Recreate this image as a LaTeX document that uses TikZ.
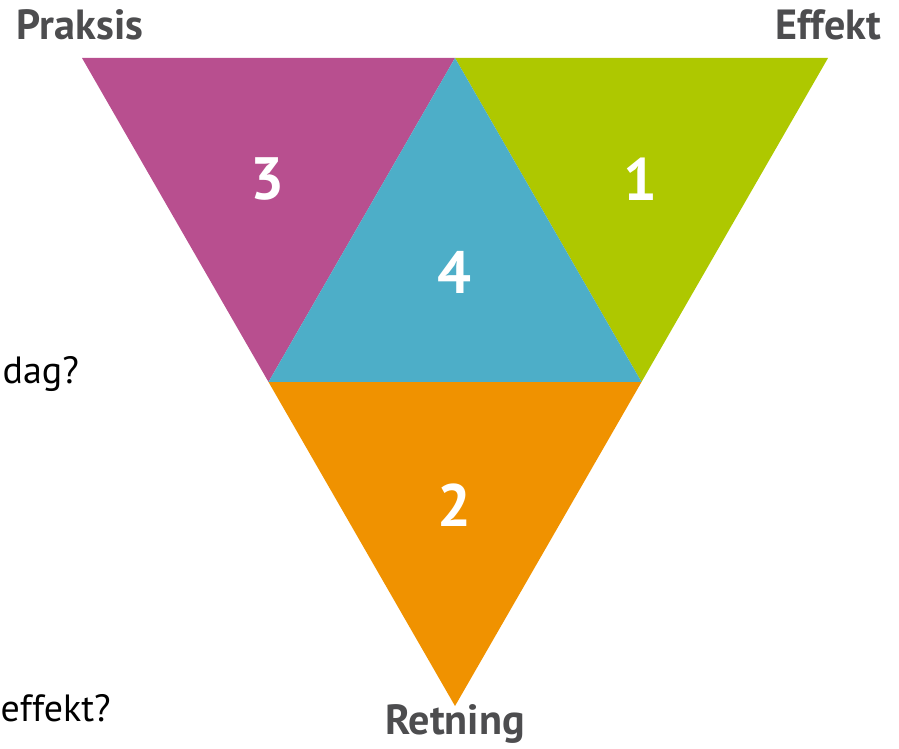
\documentclass[tikz,border=0pt]{standalone}
\usepackage{fontspec}
\setmainfont{PT Sans}
\usetikzlibrary{calc}
\definecolor{lilla}{HTML}{B84F8F}
\definecolor{gronn}{HTML}{AEC800}
\definecolor{blaa}{HTML}{4DAEC8}
\definecolor{oransje}{HTML}{F09200}
\definecolor{graa}{HTML}{4D4D4F}
\begin{document}
\begin{tikzpicture}[line join=round,
	tal/.style={text=white, font=\bfseries\fontsize{17}{17}\selectfont},
	hjorne/.style={text=graa, font=\bfseries\fontsize{12}{12}\selectfont},
	sporsmaal/.style={text=black, font=\fontsize{10.8}{12}\selectfont, anchor=west, inner sep=0pt}]
	\useasboundingbox (0,0) rectangle (8.99,7.48);
	%hjørner
	\coordinate (P) at (0.82,6.90);
	\coordinate (E) at (8.28,6.90);
	\coordinate (R) at (4.55,0.42);
	\coordinate (PE) at ($(P)!0.5!(E)$);
	\coordinate (PR) at ($(P)!0.5!(R)$);
	\coordinate (ER) at ($(E)!0.5!(R)$);
	%trekanter
	\fill[lilla] (P)--(PE)--(PR)--cycle;
	\fill[gronn] (PE)--(E)--(ER)--cycle;
	\fill[oransje] (PR)--(ER)--(R)--cycle;
	\fill[blaa] (PE)--(ER)--(PR)--cycle;
	\node[tal] (t3) at (2.67,5.69) {3};
	\node[tal] (t1) at (6.40,5.69) {1};
	\node[tal] (t4) at (4.54,4.76) {4};
	\node[tal] (t2) at (4.54,2.43) {2};
	\node[hjorne] (praksis) at (0.80,7.23) {Praksis};
	\node[hjorne] (effekt) at (8.28,7.23) {Effekt};
	\node[hjorne] (retning) at (4.55,0.24) {Retning};
	\node[sporsmaal] (dag) at (0.02,3.74) {dag?};
	\node[sporsmaal] (eff) at (0.0,0.40) {effekt?};
\end{tikzpicture}
\end{document}
